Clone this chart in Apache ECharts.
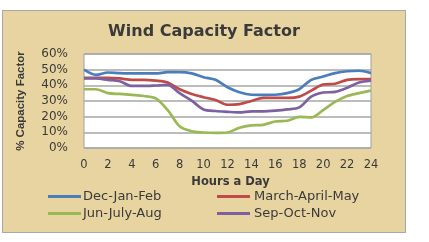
<!DOCTYPE html>
<html><head><meta charset="utf-8">
<script src="https://cdn.jsdelivr.net/npm/echarts@6/dist/echarts.min.js"></script>
<style>
html,body{margin:0;padding:0;background:#fff;width:429px;height:242px;overflow:hidden}
#panel{position:absolute;left:2px;top:10px;width:402px;height:221px;background:#E8D4A0;border:1px solid #A8A8A8}
#chart{position:absolute;left:0;top:0;width:402px;height:221px}
</style></head>
<body>
<div id="panel"><div id="chart"></div></div>
<script>
var hours = [0,1,2,3,4,5,6,7,8,9,10,11,12,13,14,15,16,17,18,19,20,21,22,23,24];
var decJanFeb = [50,46.7,48.2,47.8,47.6,47.6,47.6,48.4,48.4,47.6,45.2,43.5,38.8,35.6,34,33.9,34,35,37.5,43.5,45.6,47.8,49,49.3,47.8];
var marAprMay = [44.8,44.8,44.8,44.4,43.5,43.5,43,41.8,37.5,34.5,32.4,30.6,27.6,28,30,32,32,32,32.8,36.6,40.5,41,43.5,44,44];
var junJulAug = [37.5,37.5,35,34.5,33.9,33.2,31.7,24.2,13.9,10.7,9.9,9.6,9.9,12.9,14.4,14.8,16.9,17.4,19.9,19.5,24.2,29.4,33.2,35,36.6];
var sepOctNov = [44.4,44.4,43.5,42.6,39.6,39.6,39.9,40.3,35,30.2,24.6,23.6,23.1,22.7,23.4,23.4,23.8,24.6,25.9,32.8,35.4,35.8,38.4,41.8,43];
var seriesNames = ['Dec-Jan-Feb','March-April-May','Jun-July-Aug','Sep-Oct-Nov'];
var seriesColors = ['#4A7EBB','#BE4B48','#98B954','#7D60A0'];
var seriesData = [decJanFeb, marAprMay, junJulAug, sepOctNov];

var chart = echarts.init(document.getElementById('chart'));
var txt = '#3A3A3A';
var series = seriesData.map(function(d, i){
  return {
    name: seriesNames[i], type: 'line', smooth: 0.3, showSymbol: false,
    data: d.map(function(v, j){ return [hours[j], v]; }),
    lineStyle: {color: seriesColors[i], width: 2.7},
    itemStyle: {color: seriesColors[i]}
  };
});
chart.setOption({
  animation: false,
  title: {text: 'Wind Capacity Factor', left: 'center', top: 8,
    textStyle: {fontFamily: 'DejaVu Sans', fontWeight: 'bold', fontSize: 16, color: txt}},
  grid: {left: 81, top: 43, width: 287, height: 94, show: true, backgroundColor: '#fff',
    borderColor: '#A0A0A0', borderWidth: 1},
  legend: [
    {left: 40, top: 174, orient: 'vertical', itemGap: 4, itemWidth: 33, itemHeight: 3, icon: 'rect',
     data: [seriesNames[0], seriesNames[2]],
     textStyle: {fontFamily: 'DejaVu Sans', fontSize: 13, color: txt, padding: [0,0,0,-3]}},
    {left: 209, top: 174, orient: 'vertical', itemGap: 4, itemWidth: 33, itemHeight: 3, icon: 'rect',
     data: [seriesNames[1], seriesNames[3]],
     textStyle: {fontFamily: 'DejaVu Sans', fontSize: 13, color: txt, padding: [0,0,0,-1]}}
  ],
  xAxis: {type: 'value', min: 0, max: 24, interval: 2,
    name: 'Hours a Day', nameLocation: 'middle', nameGap: 28,
    nameTextStyle: {fontFamily: 'DejaVu Sans', fontWeight: 'bold', fontSize: 11.5, color: txt, padding: [0,0,0,6]},
    axisLine: {show: false}, axisTick: {show: false}, splitLine: {show: false},
    axisLabel: {margin: 11, fontFamily: 'DejaVu Sans', fontSize: 11.5, color: txt}},
  yAxis: {type: 'value', min: 0, max: 60, interval: 10,
    name: '% Capacity Factor', nameLocation: 'middle', nameGap: 57,
    nameTextStyle: {fontFamily: 'Liberation Sans Narrow, Liberation Sans', fontWeight: 'bold', fontSize: 11.5, color: txt},
    axisLine: {show: false}, axisTick: {show: false},
    splitLine: {lineStyle: {color: '#A6A6A6', width: 1.5}},
    axisLabel: {margin: 16, fontFamily: 'DejaVu Sans', fontSize: 12, color: txt, formatter: '{value}%'}},
  series: series
});
</script>
</body></html>
